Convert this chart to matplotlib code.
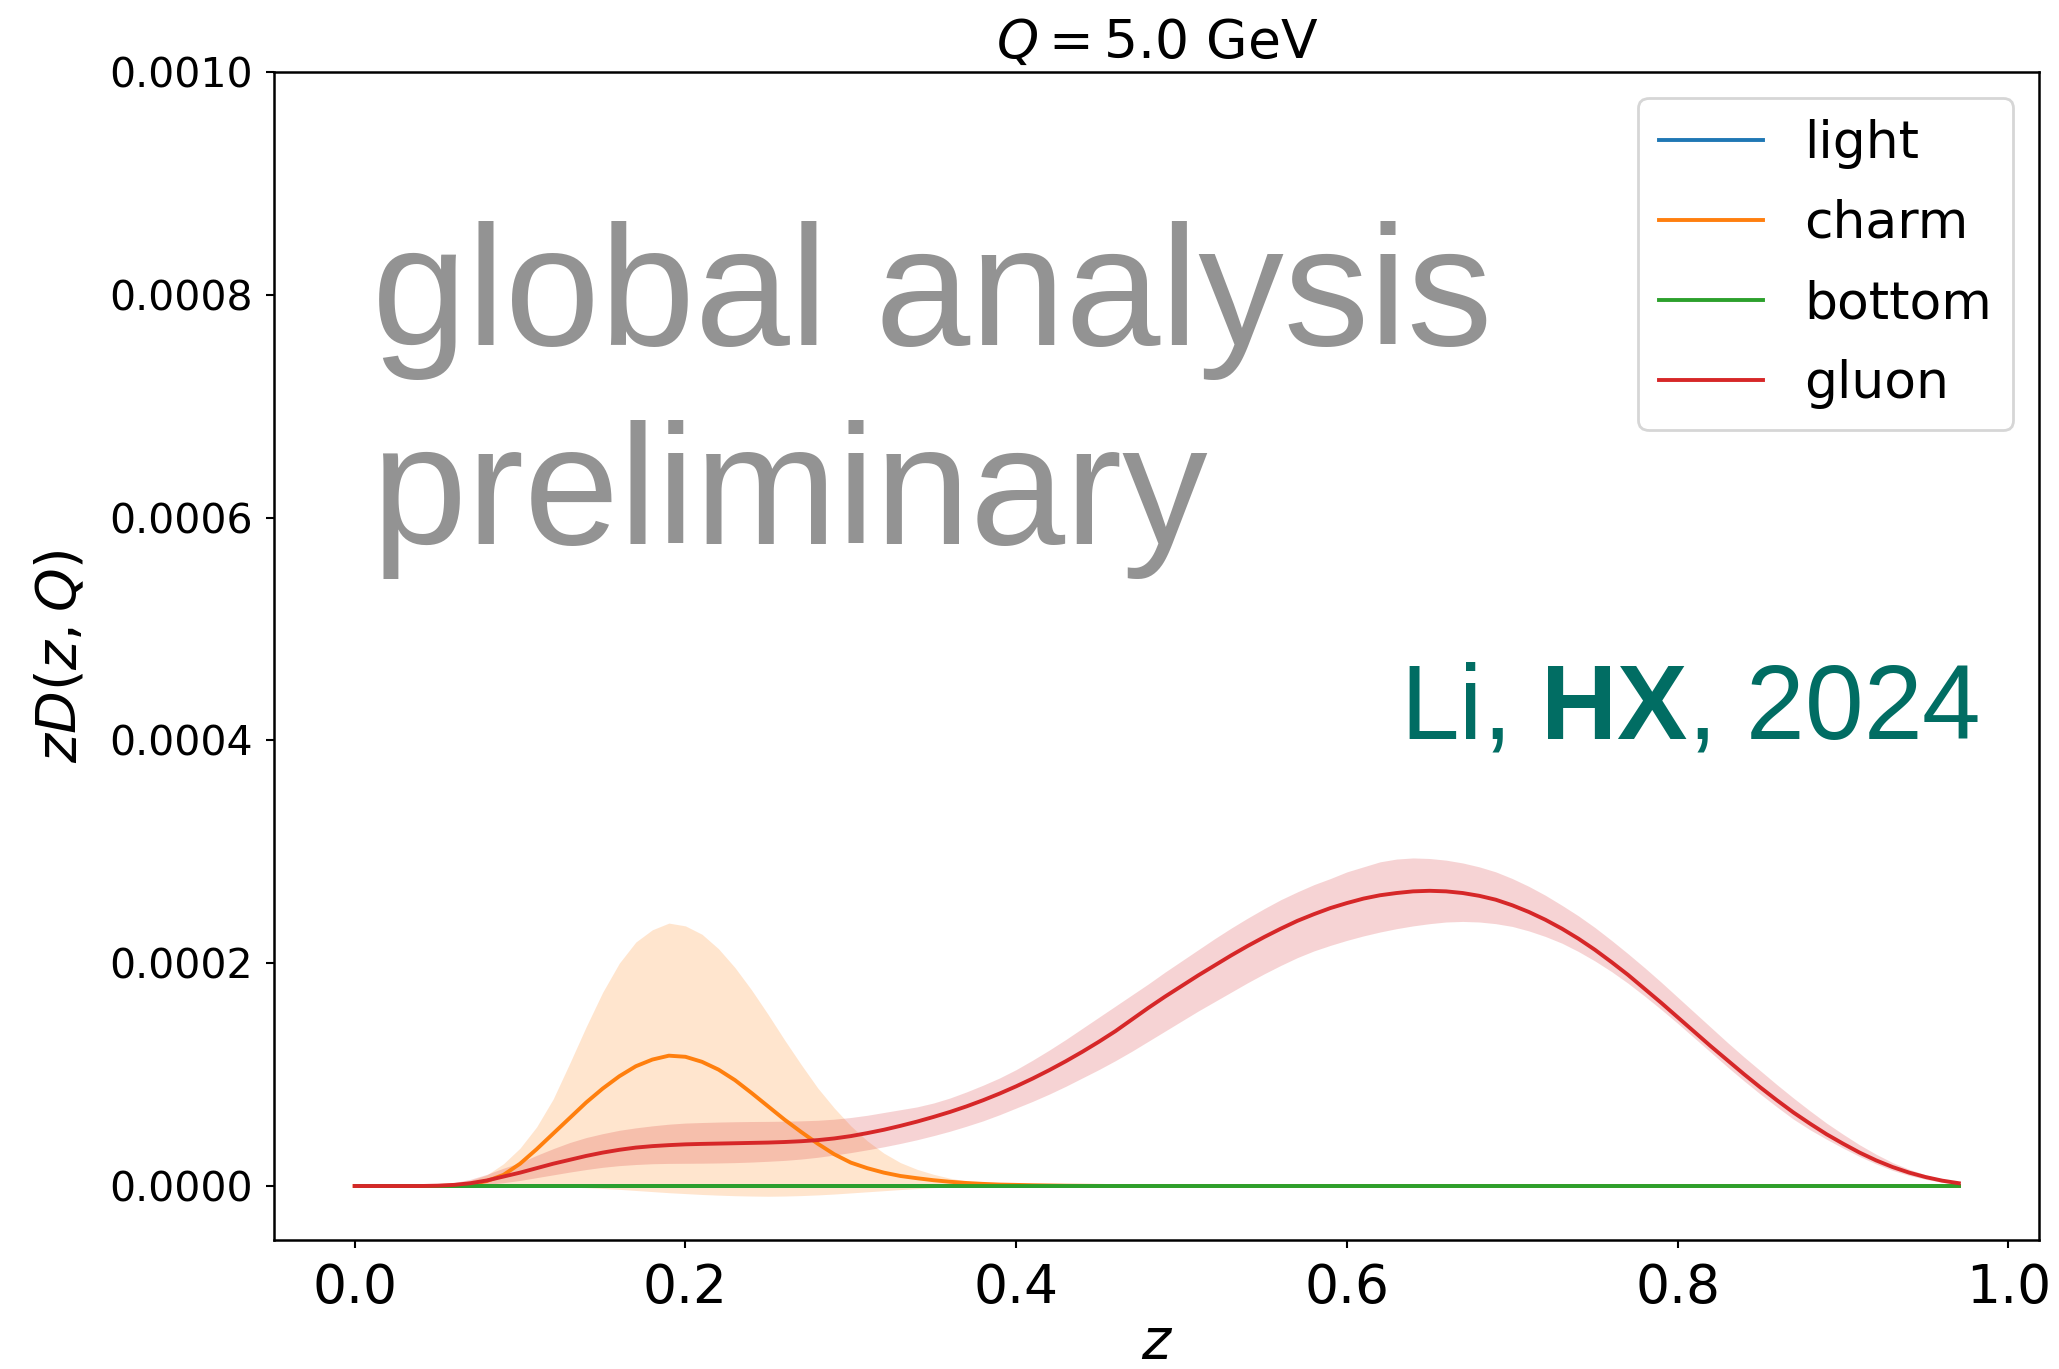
import matplotlib.pyplot as plt
from matplotlib.ticker import FormatStrFormatter
import numpy as np

# math text: DejaVu for labels, Liberation Sans bold for the author tag
plt.rcParams["mathtext.fontset"] = "custom"
plt.rcParams["mathtext.rm"] = "DejaVu Sans"
plt.rcParams["mathtext.it"] = "DejaVu Sans:italic"
plt.rcParams["mathtext.bf"] = "Liberation Sans:bold"

# momentum fraction grid
Z = [0.00, 0.01, 0.02, 0.03, 0.04, 0.05, 0.06, 0.07, 0.08, 0.09,
     0.10, 0.11, 0.12, 0.13, 0.14, 0.15, 0.16, 0.17, 0.18, 0.19,
     0.20, 0.21, 0.22, 0.23, 0.24, 0.25, 0.26, 0.27, 0.28, 0.29,
     0.30, 0.31, 0.32, 0.33, 0.34, 0.35, 0.36, 0.37, 0.38, 0.39,
     0.40, 0.41, 0.42, 0.43, 0.44, 0.45, 0.46, 0.47, 0.48, 0.49,
     0.50, 0.51, 0.52, 0.53, 0.54, 0.55, 0.56, 0.57, 0.58, 0.59,
     0.60, 0.61, 0.62, 0.63, 0.64, 0.65, 0.66, 0.67, 0.68, 0.69,
     0.70, 0.71, 0.72, 0.73, 0.74, 0.75, 0.76, 0.77, 0.78, 0.79,
     0.80, 0.81, 0.82, 0.83, 0.84, 0.85, 0.86, 0.87, 0.88, 0.89,
     0.90, 0.91, 0.92, 0.93, 0.94, 0.95, 0.96, 0.97]

# light and bottom stay at zero over the whole range
Z_FLAT = [0.00, 0.97]
LIGHT = [0.0, 0.0]
BOTTOM = [0.0, 0.0]

# zD(z, Q) in units of 1e-5
CHARM = [0, 0, 0, 0, 0, 0, 0.04, 0.15, 0.45, 1.0,
         2.0, 3.3, 4.7, 6.1, 7.5, 8.75, 9.85, 10.75, 11.35, 11.7,
         11.6, 11.15, 10.45, 9.5, 8.35, 7.15, 5.95, 4.85, 3.8, 2.85,
         2.1, 1.6, 1.2, 0.9, 0.7, 0.52, 0.38, 0.27, 0.19, 0.13,
         0.1, 0.07, 0.05, 0.03, 0.02, 0.01, 0, 0, 0, 0,
         0, 0, 0, 0, 0, 0, 0, 0, 0, 0,
         0, 0, 0, 0, 0, 0, 0, 0, 0, 0,
         0, 0, 0, 0, 0, 0, 0, 0, 0, 0,
         0, 0, 0, 0, 0, 0, 0, 0, 0, 0,
         0, 0, 0, 0, 0, 0, 0, 0]
CHARM_HI = [0, 0, 0, 0, 0, 0.02, 0.15, 0.5, 1.0, 2.0,
            3.4, 5.3, 7.8, 11.0, 14.3, 17.4, 20.0, 21.9, 23.0, 23.6,
            23.35, 22.6, 21.3, 19.6, 17.6, 15.4, 13.1, 10.9, 8.8, 7.0,
            5.4, 4.05, 2.95, 2.1, 1.5, 1.05, 0.7, 0.45, 0.3, 0.2,
            0.12, 0.08, 0.05, 0.03, 0.02, 0.01, 0, 0, 0, 0,
            0, 0, 0, 0, 0, 0, 0, 0, 0, 0,
            0, 0, 0, 0, 0, 0, 0, 0, 0, 0,
            0, 0, 0, 0, 0, 0, 0, 0, 0, 0,
            0, 0, 0, 0, 0, 0, 0, 0, 0, 0,
            0, 0, 0, 0, 0, 0, 0, 0]
CHARM_LO = [0, 0, 0, 0, 0, 0, 0, 0, 0, 0,
            0, 0, -0.05, -0.1, -0.15, -0.22, -0.3, -0.4, -0.5, -0.6,
            -0.68, -0.76, -0.82, -0.87, -0.9, -0.92, -0.9, -0.86, -0.8, -0.72,
            -0.62, -0.52, -0.42, -0.32, -0.23, -0.15, -0.09, -0.05, -0.02, 0,
            0, 0, 0, 0, 0, 0, 0, 0, 0, 0,
            0, 0, 0, 0, 0, 0, 0, 0, 0, 0,
            0, 0, 0, 0, 0, 0, 0, 0, 0, 0,
            0, 0, 0, 0, 0, 0, 0, 0, 0, 0,
            0, 0, 0, 0, 0, 0, 0, 0, 0, 0,
            0, 0, 0, 0, 0, 0, 0, 0]

GLUON = [0, 0, 0, 0, 0, 0.03, 0.1, 0.25, 0.5, 0.85,
         1.2, 1.6, 2.0, 2.35, 2.7, 3.0, 3.25, 3.45, 3.58, 3.67,
         3.74, 3.78, 3.81, 3.84, 3.87, 3.9, 3.95, 4.02, 4.12, 4.27,
         4.48, 4.75, 5.05, 5.4, 5.78, 6.2, 6.65, 7.15, 7.7, 8.3,
         8.95, 9.65, 10.4, 11.2, 12.05, 12.95, 13.9, 14.95, 16.0, 17.0,
         17.95, 18.9, 19.8, 20.7, 21.55, 22.35, 23.1, 23.8, 24.4, 24.95,
         25.4, 25.8, 26.1, 26.3, 26.45, 26.5, 26.45, 26.3, 26.05, 25.7,
         25.2, 24.6, 23.9, 23.1, 22.2, 21.2, 20.1, 18.95, 17.7, 16.45,
         15.15, 13.85, 12.55, 11.3, 10.05, 8.85, 7.7, 6.6, 5.6, 4.65,
         3.8, 3.0, 2.3, 1.7, 1.2, 0.8, 0.48, 0.25]
GLUON_HI = [0, 0, 0, 0, 0.05, 0.12, 0.3, 0.6, 1.05, 1.6,
            2.1, 2.75, 3.35, 3.9, 4.35, 4.7, 5.0, 5.22, 5.4, 5.55,
            5.65, 5.7, 5.74, 5.77, 5.79, 5.8, 5.82, 5.85, 5.9, 6.0,
            6.15, 6.35, 6.6, 6.85, 7.1, 7.45, 7.9, 8.45, 9.05, 9.7,
            10.45, 11.3, 12.2, 13.15, 14.15, 15.15, 16.15, 17.15, 18.15, 19.2,
            20.2, 21.2, 22.2, 23.15, 24.05, 24.9, 25.7, 26.4, 27.05, 27.6,
            28.2, 28.65, 29.1, 29.35, 29.45, 29.4, 29.25, 29.0, 28.65, 28.2,
            27.6, 26.9, 26.1, 25.2, 24.25, 23.2, 22.05, 20.85, 19.6, 18.3,
            16.95, 15.6, 14.25, 12.9, 11.6, 10.35, 9.1, 7.9, 6.75, 5.65,
            4.65, 3.7, 2.85, 2.1, 1.5, 1.0, 0.6, 0.3]
GLUON_LO = [0, 0, 0, 0, 0, 0, 0.03, 0.08, 0.15, 0.3,
            0.5, 0.75, 1.0, 1.25, 1.48, 1.68, 1.83, 1.93, 2.0, 2.03,
            2.04, 2.05, 2.07, 2.1, 2.15, 2.22, 2.3, 2.42, 2.58, 2.78,
            3.0, 3.25, 3.52, 3.82, 4.15, 4.52, 4.92, 5.37, 5.85, 6.4,
            7.0, 7.6, 8.25, 8.95, 9.7, 10.45, 11.25, 12.1, 13.0, 13.9,
            14.8, 15.7, 16.55, 17.4, 18.25, 19.05, 19.8, 20.5, 21.1, 21.6,
            22.05, 22.45, 22.8, 23.1, 23.35, 23.55, 23.7, 23.75, 23.7, 23.55,
            23.3, 22.9, 22.4, 21.8, 21.05, 20.2, 19.25, 18.2, 17.05, 15.85,
            14.6, 13.3, 12.0, 10.7, 9.45, 8.25, 7.1, 6.0, 5.05, 4.2,
            3.4, 2.65, 1.98, 1.4, 0.95, 0.6, 0.33, 0.15]

UNIT = 1e-5
X_TICKS = [0.0, 0.2, 0.4, 0.6, 0.8, 1.0]
Y_TICKS = [0.0, 0.0002, 0.0004, 0.0006, 0.0008, 0.0010]

series = [
    ("light", Z_FLAT, LIGHT, None, None, "tab:blue"),
    ("charm", Z, CHARM, CHARM_LO, CHARM_HI, "tab:orange"),
    ("bottom", Z_FLAT, BOTTOM, None, None, "tab:green"),
    ("gluon", Z, GLUON, GLUON_LO, GLUON_HI, "tab:red"),
]

fig = plt.figure(figsize=(20.59, 13.69), dpi=100)
ax = fig.add_axes([0.1333, 0.0942, 0.857, 0.8532])

for label, zs, mid, lo, hi, color in series:
    zs = np.array(zs)
    ax.plot(zs, np.array(mid) * UNIT, color=color, lw=2.8, label=label)
    if lo is not None:
        ax.fill_between(zs, np.array(lo) * UNIT, np.array(hi) * UNIT,
                        color=color, alpha=0.2, lw=0)

ax.set_xlim(-0.0485, 1.0185)
ax.set_ylim(-0.0000485, 0.0010)
ax.set_xticks(X_TICKS)
ax.set_yticks(Y_TICKS)
ax.xaxis.set_major_formatter(FormatStrFormatter("%.1f"))
ax.yaxis.set_major_formatter(FormatStrFormatter("%.4f"))
ax.tick_params(axis="x", labelsize=38.5, length=5.5, width=1.5, pad=10)
ax.tick_params(axis="y", labelsize=29.5, length=5.5, width=1.5, pad=10)
for sp in ax.spines.values():
    sp.set_linewidth(1.8)

ax.set_title(r"$Q=5.0$ GeV", fontsize=38.5, pad=10)
ax.set_xlabel(r"$z$", fontsize=40, labelpad=2)
ax.set_ylabel(r"$zD(z,Q)$", fontsize=40, labelpad=15)

leg = ax.legend(loc="upper right", fontsize=37.4, labelspacing=0.58)
leg.get_frame().set_linewidth(2.0)

# watermark, one line per baseline
for line, y in [("global analysis", 0.766), ("preliminary", 0.596)]:
    ax.text(0.055, y, line, transform=ax.transAxes,
            family="Liberation Sans", fontsize=123, color="#939393",
            ha="left", va="baseline")
ax.text(0.966, 0.429, r"Li, $\mathbf{HX}$, 2024", transform=ax.transAxes,
        family="Liberation Sans", fontsize=76, color="#016d63",
        ha="right", va="baseline")

fig.savefig("out.png", dpi=100)
